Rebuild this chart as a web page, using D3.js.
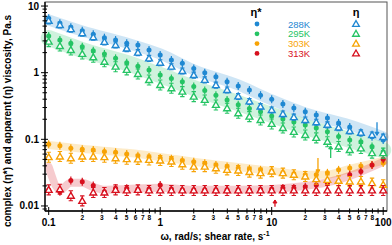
<!DOCTYPE html>
<html><head><meta charset="utf-8">
<script src="https://cdn.jsdelivr.net/npm/d3@7"></script>
<style>body{margin:0;background:#fff}svg{display:block}text{font-family:"Liberation Sans",Arial,sans-serif}</style>
</head><body><svg id="c" width="392" height="245"></svg>
<script>
const freq = [0.1,0.126,0.158,0.2,0.251,0.316,0.398,0.501,0.631,0.794,1,1.26,1.58,2,2.51,3.16,3.98,5.01,6.31,7.94,10,12.6,15.8,20,25.1,31.6,39.8,50.1,63.1,79.4,100];
const temps = ["288K","295K","303K","313K"];
const colors = ["#1f88d2","#25c464","#f7a305","#d7101e"];
const etaStar288 = [6.54,5.50,4.79,4.26,3.76,3.35,3.09,2.76,2.60,2.19,1.84,1.55,1.38,1.16,1.0,0.87,0.73,0.63,0.55,0.46,0.40,0.34,0.296,0.26,0.232,0.209,0.176,0.153,0.125,0.109,0.098];
const eta288 = [6.0,5.2,4.5,3.9,3.4,2.9,2.6,2.3,2.0,1.64,1.41,1.23,1.06,0.92,0.78,0.65,0.55,0.44,0.37,0.31,0.275,0.24,0.215,0.195,0.18,0.165,0.15,0.133,0.125,0.116,0.108];
const etaStar295 = [3.55,3.09,2.76,2.45,2.14,1.91,1.64,1.41,1.25,1.10,0.92,0.82,0.73,0.62,0.54,0.46,0.39,0.33,0.29,0.26,0.224,0.202,0.182,0.164,0.148,0.130,0.110,0.098,0.092,0.078,0.065];
const eta295 = [2.92,2.51,2.19,1.91,1.70,1.46,1.23,1.10,0.956,0.777,0.654,0.584,0.519,0.437,0.39,0.328,0.292,0.246,0.219,0.195,0.170,0.148,0.129,0.116,0.105,0.092,0.078,0.069,0.073,0.062,0.062];
const etaStar303 = [0.0845,0.080,0.0735,0.071,0.0694,0.0655,0.064,0.060,0.0568,0.0544,0.0525,0.0509,0.048,0.046,0.0436,0.0412,0.039,0.0372,0.036,0.0348,0.0336,0.0319,0.0303,0.0293,0.0293,0.0314,0.0348,0.0372,0.0398,0.041,0.0443];
const eta303 = [0.0539,0.0552,0.052,0.0552,0.0552,0.0539,0.052,0.0503,0.050,0.049,0.048,0.0464,0.0423,0.0389,0.0389,0.0368,0.0348,0.034,0.0322,0.0311,0.0328,0.0311,0.0294,0.0277,0.0252,0.0246,0.0238,0.0233,0.0233,0.022,0.0208];
const etaStar313 = [0.0174,0.0164,0.024,0.023,0.0202,0.0164,0.0184,0.0184,0.0178,0.018,0.0206,0.018,0.0175,0.0175,0.0175,0.0175,0.0175,0.0175,0.0175,0.0178,0.018,0.0186,0.0186,0.0195,0.0206,0.022,0.0233,0.0294,0.0328,0.0412,0.0502];
const eta313 = [0.0174,0.0178,0.0142,0.0119,0.0159,0.0159,0.0174,0.0171,0.0174,0.0171,0.0171,0.0171,0.0171,0.0171,0.0171,0.0171,0.0171,0.0171,0.0171,0.0171,0.0171,0.0171,0.0171,0.0171,0.0171,0.0171,0.0171,0.0171,0.0171,0.0171,0.0171];
const bandFreq = [0.1,0.2,0.5,1,2,5,10,20,50,100];
const band288 = [6.17,4.22,2.79,1.91,1.10,0.654,0.39,0.249,0.164,0.109];
const band295 = [3.31,2.19,1.40,0.92,0.59,0.351,0.232,0.154,0.098,0.069];
const bandFreq303 = [0.1,0.2,0.5,1,2,5,10,20,30,50,100];
const band303 = [0.082,0.072,0.0627,0.0544,0.046,0.0385,0.0336,0.0293,0.0293,0.036,0.0475];
const bandFreq313 = [0.1,0.126,0.158,0.2,0.25,0.316,0.5,1,2,5,10,20,30,50,100];
const band313 = [0.0386,0.0175,0.0222,0.0222,0.0193,0.0175,0.018,0.0187,0.0175,0.0175,0.018,0.020,0.0222,0.0283,0.046];
const arrowFreq = [88,33.8,26,10.7];
const arrowFrom = [0.18,0.0526,0.0525,0.0097];
const arrowTo = [0.115,0.0796,0.0314,0.0123];
const xMajor = [0.1,1,10,100];
const yMajor = [0.01,0.1,1,10];

const starSeries = [etaStar288,etaStar295,etaStar303,etaStar313];
const etaSeries = [eta288,eta295,eta303,eta313];
const bands = [[bandFreq,band288,11],[bandFreq,band295,16],[bandFreq303,band303,8],[bandFreq313,band313,8]];

const svg = d3.select("#c");
const x = d3.scaleLog().domain([0.09265,108.17]).range([45,387]);
const y = d3.scaleLog().domain([0.0084,11.5]).range([211,2]);

svg.append("rect").attr("x",45).attr("y",2).attr("width",342).attr("height",209)
  .attr("fill","none").attr("stroke","#555").attr("stroke-width",1);

const line = d3.line().curve(d3.curveMonotoneX);
bands.forEach((b,k)=>{
  svg.append("path").attr("d",line(b[0].map((f,i)=>[x(f),y(b[1][i])])))
    .attr("fill","none").attr("stroke",colors[k]).attr("stroke-opacity",0.22)
    .attr("stroke-width",b[2]).attr("stroke-linecap","round");
});

starSeries.forEach((s,k)=>{
  const g = svg.append("g").attr("stroke",colors[k]).attr("fill",colors[k]);
  s.forEach((v,i)=>{
    const cx=x(freq[i]), cy=y(v);
    g.append("line").attr("x1",cx).attr("x2",cx).attr("y1",cy-4).attr("y2",cy+4).attr("stroke-width",1.2);
    g.append("circle").attr("cx",cx).attr("cy",cy).attr("r",2.5).attr("stroke","none");
  });
});
const tri = d3.symbol().type(d3.symbolTriangle).size(20);
etaSeries.forEach((s,k)=>{
  const g = svg.append("g").attr("stroke",colors[k]).attr("fill","none").attr("stroke-width",1.4);
  const e = k===0?3:5;
  s.forEach((v,i)=>{
    const cx=x(freq[i]), cy=y(v);
    g.append("path").attr("d",`M${cx},${cy-e}V${cy+e}M${cx-2.2},${cy-e}H${cx+2.2}M${cx-2.2},${cy+e}H${cx+2.2}`).attr("stroke-width",1.1);
    g.append("path").attr("d",tri()).attr("transform",`translate(${cx},${cy+0.5})`).attr("fill","#fff");
  });
});

arrowFreq.forEach((f,k)=>{
  const ax=x(f), y1=y(arrowFrom[k]), y2=y(arrowTo[k]);
  const dir = y2>y1?1:-1;
  svg.append("path").attr("d",`M${ax},${y1}V${y2}`).attr("stroke",colors[k]).attr("stroke-width",1.3);
  svg.append("path").attr("d",`M${ax-2},${y2-3*dir}L${ax},${y2}L${ax+2},${y2-3*dir}Z`).attr("fill",colors[k]).attr("stroke",colors[k]);
});

svg.append("line").attr("x1",45).attr("x2",45).attr("y1",2).attr("y2",211).attr("stroke","#000").attr("stroke-width",1.3);
svg.append("line").attr("x1",45).attr("x2",387).attr("y1",211).attr("y2",211).attr("stroke","#000").attr("stroke-width",1.3);

y.ticks().forEach(t=>{
  const maj = yMajor.some(m=>Math.abs(m-t)/m<1e-6);
  svg.append("line").attr("x1",maj?41:42.5).attr("x2",maj?48:47).attr("y1",y(t)).attr("y2",y(t)).attr("stroke","#000").attr("stroke-width",1);
});
yMajor.forEach(t=>{
  svg.append("text").attr("x",39).attr("y",y(t)+3.5).attr("text-anchor","end")
    .attr("font-size",10).attr("font-weight","bold").text(String(t));
});
x.ticks().forEach(t=>{
  const maj = xMajor.some(m=>Math.abs(m-t)/m<1e-6);
  svg.append("line").attr("y1",maj?207:208.5).attr("y2",maj?215:213.5).attr("x1",x(t)).attr("x2",x(t)).attr("stroke","#000").attr("stroke-width",1);
  const lead = Math.round(t/Math.pow(10,Math.floor(Math.log10(t)+1e-9)));
  if(!maj && lead<=8){
    svg.append("text").attr("x",x(t)).attr("y",219.5).attr("text-anchor","middle")
      .attr("font-size",6.5).attr("font-weight","bold").text(String(lead));
  }
});
xMajor.forEach(t=>{
  svg.append("text").attr("x",x(t)).attr("y",226).attr("text-anchor","middle")
    .attr("font-size",10).attr("font-weight","bold").text(String(t));
});

const xt = svg.append("text").attr("x",215).attr("y",240).attr("text-anchor","middle").attr("font-size",10).attr("font-weight","bold");
xt.append("tspan").text("ω, rad/s; shear rate, s");
xt.append("tspan").attr("dy",-4).attr("font-size",7).text("-1");
svg.append("text").attr("transform","translate(11,121) rotate(-90)").attr("text-anchor","middle")
  .attr("font-size",10).attr("font-weight","bold").text("complex (η*) and apparent (η) viscosity,  Pa.s");

svg.append("text").attr("x",256).attr("y",16).attr("text-anchor","middle").attr("font-size",11).attr("font-weight","bold").text("η*");
svg.append("text").attr("x",356).attr("y",16).attr("text-anchor","middle").attr("font-size",11).attr("font-weight","bold").text("η");
temps.forEach((t,k)=>{
  const ly = 24+k*9.8;
  svg.append("text").attr("x",288).attr("y",ly+3.5).attr("font-size",9.5).attr("fill",colors[k]).text(t);
  svg.append("circle").attr("cx",257).attr("cy",ly).attr("r",2.4).attr("fill",colors[k]);
  svg.append("path").attr("d",tri()).attr("transform",`translate(356,${ly+0.5})`).attr("fill","#fff").attr("stroke",colors[k]).attr("stroke-width",1.3);
});
</script></body></html>
